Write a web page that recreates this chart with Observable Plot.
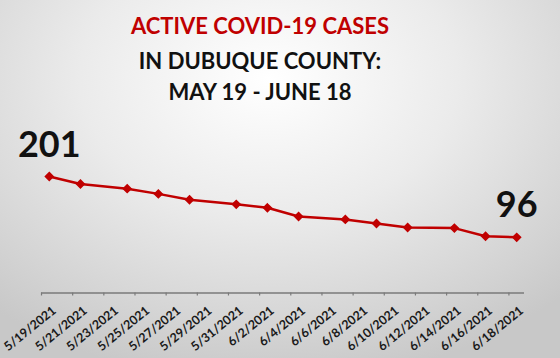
<!DOCTYPE html>
<html>
<head>
<meta charset="utf-8">
<script src="https://cdn.jsdelivr.net/npm/d3@7"></script>
<script src="https://cdn.jsdelivr.net/npm/@observablehq/plot@0.6"></script>
<style>
  html, body { margin: 0; padding: 0; }
  #wrap {
    position: relative; width: 560px; height: 358px; overflow: hidden;
    background: radial-gradient(ellipse 75% 85% at 48% 22%, #ffffff 0%, #ebebeb 45%, #d2d2d2 85%, #c8c8c8 100%);
    font-family: Lato, "Open Sans", sans-serif;
  }
  .t { position: absolute; left: 0; width: 520px; text-align: center; font-weight: 700; font-size: 22px; line-height: 1; white-space: nowrap; }
  #plot { position: absolute; left: 0; top: 0; }
</style>
</head>
<body>
<div id="wrap">
  <div id="plot"></div>
  <div class="t" id="t1" style="top:15px;color:#c00000">ACTIVE COVID-19 CASES</div>
  <div class="t" id="t2" style="top:50px;color:#111">IN DUBUQUE COUNTY:</div>
  <div class="t" id="t3" style="top:81px;color:#111">MAY 19 - JUNE 18</div>
</div>
<script>
const dates = ["2021-05-19","2021-05-21","2021-05-24","2021-05-26","2021-05-28","2021-05-31","2021-06-02",
               "2021-06-04","2021-06-07","2021-06-09","2021-06-11","2021-06-14","2021-06-16","2021-06-18"];
const cases = [201, 188, 180, 171, 161, 153, 147, 132, 127, 120, 113, 112, 98, 96];
const tickDates = ["2021-05-19","2021-05-21","2021-05-23","2021-05-25","2021-05-27","2021-05-29","2021-05-31","2021-06-02",
                   "2021-06-04","2021-06-06","2021-06-08","2021-06-10","2021-06-12","2021-06-14","2021-06-16","2021-06-18"];
const domainStart = "2021-05-19", domainEnd = "2021-06-19";

const HALF = 12 * 3600 * 1000;
const parse = s => new Date(s + "T00:00:00Z");
const data = dates.map((d, i) => ({date: parse(d), mid: new Date(parse(d).getTime() + HALF), value: cases[i]}));
const ticks = tickDates.map(parse);
const tickMids = ticks.map(t => new Date(t.getTime() + HALF));
const fmt = d => `${d.getUTCMonth() + 1}/${d.getUTCDate()}/${d.getUTCFullYear()}`;
const ends = [data[0], data[data.length - 1]];

const chart = Plot.plot({
  width: 560, height: 358,
  marginLeft: 41, marginRight: 36, marginTop: 147.6, marginBottom: 65.5,
  style: {background: "transparent", overflow: "visible"},
  x: {type: "utc", domain: [parse(domainStart), parse(domainEnd)], label: null, axis: null},
  y: {domain: [0, 250], axis: null},
  marks: [
    Plot.ruleY([0], {stroke: "#7a7a7a", strokeWidth: 1.4}),
    Plot.axisX({ticks: ticks, tickSize: 3, tickFormat: () => "", stroke: "#7a7a7a", strokeWidth: 1.2, label: null}),
    Plot.text(tickMids, {x: d => d, frameAnchor: "bottom", text: fmt, rotate: -39, textAnchor: "end",
                         lineAnchor: "middle", dx: 5, dy: 16,
                         fontSize: 12.5, fontWeight: 700, fill: "#1a1a1a", fontFamily: "Lato"}),
    Plot.line(data, {x: "mid", y: "value", stroke: "#c00000", strokeWidth: 2.5}),
    Plot.dot(data, {x: "mid", y: "value", symbol: "diamond2", r: 3.5, fill: "#c00000", stroke: "#c00000"}),
    Plot.text(ends, {x: "mid", y: "value", text: d => String(d.value), dy: -20, lineAnchor: "bottom",
                     fontSize: 36, fontWeight: 700, fill: "#111", fontFamily: "Lato"})
  ]
});
document.getElementById("plot").appendChild(chart);
</script>
</body>
</html>
